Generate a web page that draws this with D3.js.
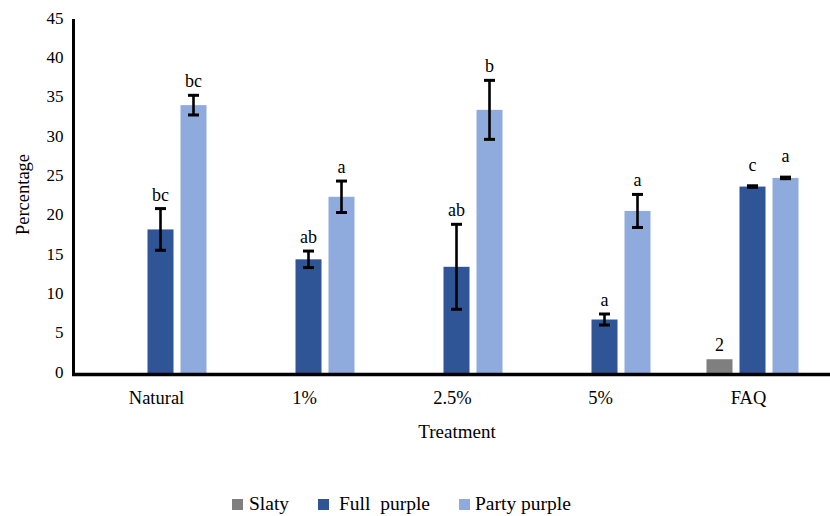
<!DOCTYPE html>
<html>
<head>
<meta charset="utf-8">
<script src="https://cdn.jsdelivr.net/npm/d3@7/dist/d3.min.js"></script>
<style>
  html, body { margin: 0; padding: 0; background: #fff; }
  svg { display: block; font-family: "Liberation Serif", "Times New Roman", serif; }
</style>
</head>
<body>
<svg id="chart" width="830" height="516"></svg>
<script>
// Treatments on the x axis
const categories = ["Natural", "1%", "2.5%", "5%", "FAQ"];
const seriesNames = ["Slaty", "Full purple", "Party purple"];

// Mean percentage per treatment
const slatyValues = [0, 0, 0, 0, 1.75];
const fullValues = [18.25, 14.45, 13.5, 6.8, 23.7];
const partyValues = [34.05, 22.4, 33.45, 20.6, 24.8];

// Standard errors
const fullErrors = [2.65, 1.05, 5.4, 0.7, 0.1];
const partyErrors = [1.25, 2.0, 3.75, 2.1, 0.1];

// Significance letters
const fullLetters = ["bc", "ab", "ab", "a", "c"];
const partyLetters = ["bc", "a", "b", "a", "a"];

const yTicks = [0, 5, 10, 15, 20, 25, 30, 35, 40, 45];

const colors = { "Slaty": "#7F7F7F", "Full purple": "#2F5597", "Party purple": "#8FAADC" };

const svg = d3.select("#chart");

const x = d3.scaleBand().domain(categories).range([86.5, 826.5]).paddingInner(0).paddingOuter(0);
const xInner = d3.scaleBand().domain(seriesNames).range([-49.5, 49.5]).paddingInner(0.212).paddingOuter(0.106);
const y = d3.scaleLinear().domain([0, 45]).range([373, 19]);

const rows = categories.map((c, i) => ({
  cat: c,
  items: [
    { s: "Slaty", v: slatyValues[i], err: null, label: slatyValues[i] > 0 ? d3.format(".0f")(slatyValues[i]) : null },
    { s: "Full purple", v: fullValues[i], err: fullErrors[i], label: fullLetters[i] },
    { s: "Party purple", v: partyValues[i], err: partyErrors[i], label: partyLetters[i] }
  ]
}));

// Y tick labels (axis drawn without tick marks)
const yAxis = d3.axisLeft(y).tickValues(yTicks).tickSize(0).tickPadding(10);
const gy = svg.append("g").attr("transform", "translate(73.5,0)").call(yAxis);
gy.select(".domain").remove();
gy.selectAll("text")
  .attr("font-family", "Liberation Serif")
  .attr("font-size", 17)
  .attr("fill", "#000")
  .attr("dy", "0.25em");

// Category labels
const xAxis = d3.axisBottom(x).tickSize(0).tickPadding(0);
const gx = svg.append("g").attr("transform", "translate(0,374.5)").call(xAxis);
gx.select(".domain").remove();
gx.selectAll("text")
  .attr("font-family", "Liberation Serif")
  .attr("font-size", 18.5)
  .attr("fill", "#000")
  .attr("dx", -4)
  .attr("y", 29.5)
  .attr("dy", 0);

// Bars
const groups = svg.append("g").selectAll("g")
  .data(rows).join("g")
  .attr("transform", d => `translate(${x(d.cat) + x.bandwidth() / 2},0)`);

groups.selectAll("rect")
  .data(d => d.items.filter(it => it.v > 0))
  .join("rect")
  .attr("x", d => xInner(d.s))
  .attr("width", xInner.bandwidth())
  .attr("y", d => y(d.v))
  .attr("height", d => y(0) - y(d.v))
  .attr("fill", d => colors[d.s]);

// Error bars
const eb = groups.selectAll("g.err")
  .data(d => d.items.filter(it => it.err !== null))
  .join("g").attr("class", "err")
  .attr("transform", d => `translate(${xInner(d.s) + xInner.bandwidth() / 2},0)`);
eb.append("line")
  .attr("y1", d => y(d.v + d.err)).attr("y2", d => y(d.v - d.err))
  .attr("stroke", "#000").attr("stroke-width", 2.6);
eb.append("line")
  .attr("x1", -5.5).attr("x2", 5.5)
  .attr("y1", d => y(d.v + d.err)).attr("y2", d => y(d.v + d.err))
  .attr("stroke", "#000").attr("stroke-width", 3);
eb.append("line")
  .attr("x1", -5.5).attr("x2", 5.5)
  .attr("y1", d => y(d.v - d.err)).attr("y2", d => y(d.v - d.err))
  .attr("stroke", "#000").attr("stroke-width", 3);

// Letters and value labels above bars
groups.selectAll("text.lbl")
  .data(d => d.items.filter(it => it.label))
  .join("text").attr("class", "lbl")
  .attr("x", d => xInner(d.s) + xInner.bandwidth() / 2)
  .attr("y", d => y(d.v + (d.err || 0)) - (d.err !== null && d.err < 0.5 ? 15 : 8))
  .attr("text-anchor", "middle")
  .attr("font-size", 18)
  .attr("fill", "#000")
  .text(d => d.label);

// Axis lines
svg.append("line")
  .attr("x1", 73.5).attr("x2", 73.5)
  .attr("y1", y(45)).attr("y2", 376)
  .attr("stroke", "#000").attr("stroke-width", 3);
svg.append("line")
  .attr("x1", 72).attr("x2", 830)
  .attr("y1", 374.5).attr("y2", 374.5)
  .attr("stroke", "#000").attr("stroke-width", 3.5);

// Axis titles
svg.append("text")
  .attr("x", 457).attr("y", 438)
  .attr("text-anchor", "middle")
  .attr("font-size", 19)
  .text("Treatment");
svg.append("text")
  .attr("transform", "translate(29,194.5) rotate(-90)")
  .attr("text-anchor", "middle")
  .attr("font-size", 18.5)
  .text("Percentage");

// Legend
const legendItems = [
  { name: "Slaty", text: "Slaty", sx: 232, tx: 249 },
  { name: "Full purple", text: "Full  purple", sx: 318, tx: 339 },
  { name: "Party purple", text: "Party purple", sx: 459, tx: 475 }
];
const lg = svg.append("g");
lg.selectAll("rect").data(legendItems).join("rect")
  .attr("x", d => d.sx).attr("y", 499)
  .attr("width", 11).attr("height", 11)
  .attr("fill", d => colors[d.name]);
lg.selectAll("text").data(legendItems).join("text")
  .attr("x", d => d.tx).attr("y", 510)
  .attr("font-size", 19.5)
  .style("white-space", "pre")
  .text(d => d.text);
</script>
</body>
</html>
